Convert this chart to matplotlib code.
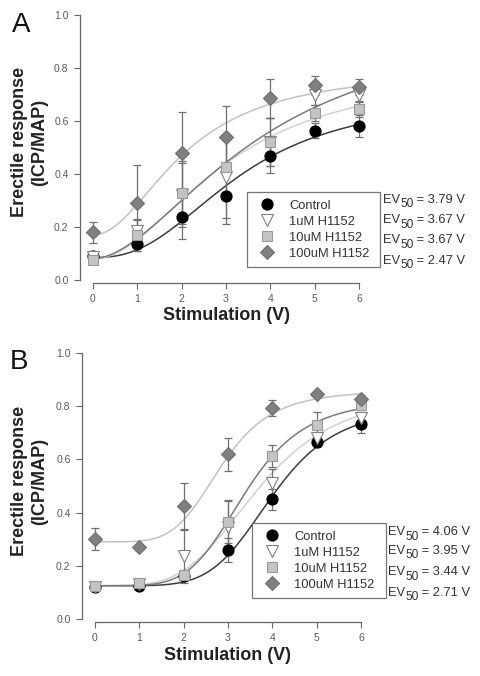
import numpy as np
import matplotlib
matplotlib.use("Agg")
import matplotlib.pyplot as plt
from matplotlib.lines import Line2D
from matplotlib.transforms import offset_copy

plt.rcParams["font.family"] = ["Liberation Sans", "DejaVu Sans"]

# ---- data ----
volts = [0, 1, 2, 3, 4, 5, 6]
groups = ["Control", "1uM H1152", "10uM H1152", "100uM H1152"]

# panel A: mean and SEM per group
a_means = [
    [0.09, 0.135, 0.236, 0.317, 0.468, 0.564, 0.581],
    [0.085, 0.185, 0.32, 0.39, 0.52, 0.70, 0.70],
    [0.075, 0.17, 0.33, 0.425, 0.52, 0.63, 0.645],
    [0.18, 0.29, 0.48, 0.54, 0.685, 0.735, 0.73],
]
a_errs = [
    [0.01, 0.025, 0.08, 0.105, 0.065, 0.03, 0.04],
    [0.01, 0.04, 0.12, 0.155, 0.09, 0.04, 0.03],
    [0.01, 0.06, 0.12, 0.12, 0.09, 0.03, 0.03],
    [0.04, 0.145, 0.155, 0.115, 0.075, 0.035, 0.03],
]
a_ev50 = ["3.79", "3.67", "3.67", "2.47"]
# Hill fit parameters: bottom, top, midpoint, slope
a_bottom = [0.085, 0.08, 0.08, 0.17]
a_top = [0.70, 0.80, 1.00, 0.80]
a_mid = [3.3, 3.0, 3.8, 2.1]
a_slope = [2.5, 2.0, 1.8, 2.0]

# panel B
b_means = [
    [0.12, 0.125, 0.16, 0.26, 0.45, 0.665, 0.734],
    [0.12, 0.13, 0.236, 0.347, 0.513, 0.68, 0.755],
    [0.125, 0.135, 0.165, 0.366, 0.613, 0.73, 0.805],
    [0.30, 0.27, 0.425, 0.62, 0.793, 0.845, 0.827],
]
b_errs = [
    [0.01, 0.01, 0.01, 0.045, 0.04, 0.02, 0.035],
    [0.01, 0.01, 0.10, 0.095, 0.05, 0.02, 0.02],
    [0.01, 0.01, 0.02, 0.08, 0.04, 0.05, 0.02],
    [0.042, 0.01, 0.085, 0.062, 0.03, 0.01, 0.015],
]
b_ev50 = ["4.06", "3.95", "3.44", "2.71"]
b_bottom = [0.125, 0.125, 0.125, 0.29]
b_top = [0.80, 0.86, 0.83, 0.86]
b_mid = [4.0, 3.7, 3.4, 2.85]
b_slope = [5.5, 4.0, 5.0, 5.0]

# ---- styles ----
markers = ["o", "v", "s", "D"]
face = ["#000000", "#ffffff", "#c4c4c4", "#808080"]
edge = ["#000000", "#808080", "#9a9a9a", "#6e6e6e"]
msize = [8, 8.5, 7.5, 7.5]
curve_col = ["#3c3c3c", "#d2d2d2", "#7a7a7a", "#c2c2c2"]
txt = "#333333"
axcol = "#666666"

W, H = 481, 676
fig = plt.figure(figsize=(W / 100, H / 100), dpi=100)
renderer = fig.canvas.get_renderer()


def hill(x, b, t, c, n):
    return b + (t - b) / (1 + (c / np.maximum(x, 1e-9)) ** n)


def panel(rect, means, errs, bottom, top, mid, slope):
    ax = fig.add_axes(rect)
    xs = np.linspace(0, 6, 300)
    for i in range(len(groups)):
        ax.plot(xs, hill(xs, bottom[i], top[i], mid[i], slope[i]),
                color=curve_col[i], lw=1.1, zorder=2)
    for i in range(len(groups)):
        ax.errorbar(volts, means[i], yerr=errs[i], fmt="none", ecolor="#707070",
                    elinewidth=0.9, capsize=3, capthick=0.9, zorder=3)
    for i in range(len(groups)):
        ax.plot(volts, means[i], ls="none", marker=markers[i], ms=msize[i],
                mfc=face[i], mec=edge[i], mew=0.8, zorder=4 + i * 0.1, clip_on=False)
    ax.set_xlim(-0.3, 6.3)
    ax.set_ylim(-0.012, 1.0)
    ax.set_xticks(volts)
    ax.set_yticks([0.0, 0.2, 0.4, 0.6, 0.8, 1.0])
    ax.set_yticklabels(["0.0", "0.2", "0.4", "0.6", "0.8", "1.0"])
    for s in ("top", "right"):
        ax.spines[s].set_visible(False)
    ax.spines["left"].set_bounds(0, 1)
    ax.spines["bottom"].set_bounds(0, 6)
    for s in ("left", "bottom"):
        ax.spines[s].set_color(axcol)
        ax.spines[s].set_linewidth(0.9)
    ax.tick_params(colors=axcol, labelcolor="#5a5a5a", labelsize=7.5,
                   length=4, width=0.8, pad=4)
    ax.patch.set_alpha(0)
    return ax


def legend_box(left, top_px, width):
    handles = [Line2D([], [], ls="none", marker=markers[i], ms=msize[i],
                      mfc=face[i], mec=edge[i], mew=0.8) for i in range(len(groups))]
    leg = fig.legend(handles, groups, loc="upper left",
                     bbox_to_anchor=(left / W, 1 - top_px / H, width / W, 0),
                     mode="expand", fontsize=9.3, frameon=True, fancybox=False,
                     borderpad=0.6, labelspacing=0.3, handlelength=1.9,
                     handletextpad=0.75, borderaxespad=0)
    leg.get_frame().set_edgecolor("#555555")
    leg.get_frame().set_linewidth(0.9)
    for t in leg.get_texts():
        t.set_color(txt)


def ev_labels(x_px, ys_px, vals):
    # EV with a large, well-lowered "50" subscript, as in the original
    for y, v in zip(ys_px, vals):
        t1 = fig.text(x_px / W, 1 - y / H, "EV", fontsize=9.3, color=txt,
                      ha="left", va="center")
        w1 = t1.get_window_extent(renderer).width
        t2 = fig.text(x_px / W, 1 - y / H, "50", fontsize=8.6, color=txt,
                      ha="left", va="center",
                      transform=offset_copy(fig.transFigure, fig, x=w1, y=-4.5,
                                            units="dots"))
        w2 = t2.get_window_extent(renderer).width
        fig.text(x_px / W, 1 - y / H, " = " + v + " V", fontsize=9.3, color=txt,
                 ha="left", va="center",
                 transform=offset_copy(fig.transFigure, fig, x=w1 + w2, y=0,
                                       units="dots"))


def labels(cx_px, cy_px, xcx, xcy, letter, lx, ly):
    fig.text(cx_px / W, 1 - cy_px / H, "Erectile response\n(ICP/MAP)", rotation=90,
             fontsize=13, fontweight="bold", color="#222222", ha="center", va="center",
             multialignment="center", linespacing=1.25)
    fig.text(xcx / W, 1 - xcy / H, "Stimulation (V)", fontsize=13,
             fontweight="bold", color="#222222", ha="center", va="center")
    fig.text(lx / W, 1 - ly / H, letter, fontsize=20, color="#111111",
             ha="center", va="center")


# panel A
panel([79.7 / W, 1 - 283.2 / H, 292.6 / W, 268.2 / H],
      a_means, a_errs, a_bottom, a_top, a_mid, a_slope)
legend_box(247, 192, 133)
ev_labels(383, [200, 220, 240, 261], a_ev50)
labels(29.5, 142, 227, 315, "A", 21, 25)

# panel B
panel([81.7 / W, 1 - 622.2 / H, 292.6 / W, 269.2 / H],
      b_means, b_errs, b_bottom, b_top, b_mid, b_slope)
legend_box(252, 523, 134)
ev_labels(388, [532, 551, 572, 593], b_ev50)
labels(29.5, 481, 228, 655, "B", 19, 362)

fig.savefig("out.png", dpi=100)
